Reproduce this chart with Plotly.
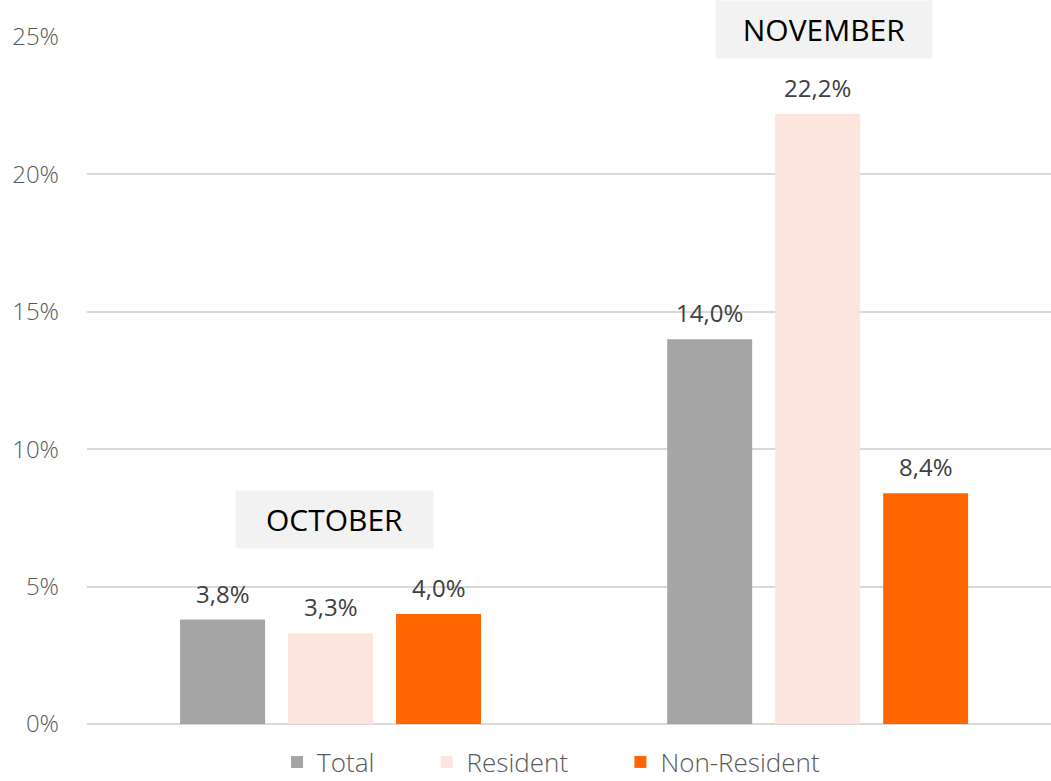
import plotly.graph_objects as go

# values
months = ["OCTOBER", "NOVEMBER"]
total = [0.038, 0.140]
resident = [0.033, 0.222]
non_resident = [0.040, 0.084]

series = [
    ("Total", total, "#a5a5a5"),
    ("Resident", resident, "#fbe5de"),
    ("Non-Resident", non_resident, "#ff6600"),
]

fig = go.Figure()

pad = "\u00a0" * 7  # extra room between legend entries
for i, (name, vals, col) in enumerate(series):
    fig.add_trace(go.Bar(
        x=months,
        y=vals,
        name=name + (pad if i < len(series) - 1 else ""),
        marker=dict(color=col, line=dict(width=0)),
        cliponaxis=False,
    ))

# value labels above the bars (a bit more gap than plotly's own outside text)
slot = 108
for i, (name, vals, col) in enumerate(series):
    for m, v in zip(months, vals):
        fig.add_annotation(x=m, y=v, xref="x", yref="y",
                           text=f"{v * 100:.1f}%".replace(".", ","),
                           showarrow=False, yanchor="bottom",
                           xshift=(i - 1) * slot, yshift=8,
                           font=dict(size=24, color="#404040"))

# month boxes
fig.add_annotation(x=0.008, y=0.0743, xref="x", yref="y", text="OCTOBER",
                   showarrow=False, font=dict(size=30, color="#000000"),
                   bgcolor="#f2f2f2", width=197, height=57, borderpad=0,
                   xanchor="center", yanchor="middle")
fig.add_annotation(x=1.013, y=1.011, xref="x", yref="paper", text="NOVEMBER",
                   showarrow=False, font=dict(size=30, color="#000000"),
                   bgcolor="#f2f2f2", width=216, height=57, borderpad=0,
                   xanchor="center", yanchor="middle")

fig.update_layout(
    width=1051, height=781,
    margin=dict(l=87, r=0, t=37, b=57),
    barmode="group",
    bargap=0.335,
    bargroupgap=0.213,
    separators=",.",
    plot_bgcolor="white",
    paper_bgcolor="white",
    font=dict(family="Open Sans", size=24, color="#595959"),
    legend=dict(orientation="h", x=0.4814, xanchor="center",
                y=1 - 762 / 781, yref="container", yanchor="middle",
                font=dict(size=26, color="#595959", weight=300)),
    xaxis=dict(range=[-0.5, 1.479], showticklabels=False, showline=False,
               showgrid=False, zeroline=False, automargin=False),
    yaxis=dict(range=[0, 0.25], dtick=0.05, tickformat=".0%",
               showgrid=True, gridcolor="#d9d9d9", gridwidth=1.5,
               zeroline=True, zerolinecolor="#d9d9d9", zerolinewidth=1.5,
               showline=False, ticks="", ticklabelstandoff=27,
               automargin=False,
               tickfont=dict(size=24, color="#595959", weight=300)),
)

fig.write_html("out.html", config={"displayModeBar": False})

# drop the browser's default body margin so the figure sits at the page corner
with open("out.html", encoding="utf-8") as f:
    html = f.read()
html = html.replace("<body>", '<body style="margin:0;overflow:hidden">', 1)
with open("out.html", "w", encoding="utf-8") as f:
    f.write(html)
